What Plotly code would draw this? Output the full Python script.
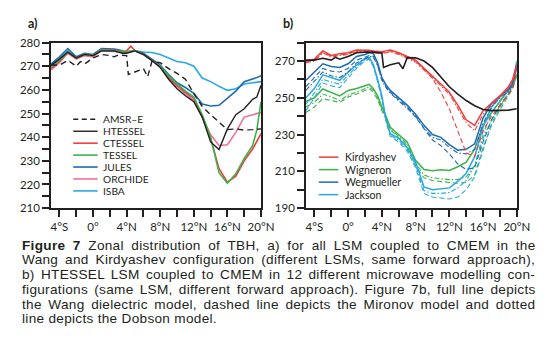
import re
import plotly.graph_objects as go

W, H = 552, 345

# ---------------- data ----------------
LAT = [-5, -4, -3, -2, -1, 0, 1, 2, 2.5, 3, 3.5, 4, 4.5, 5, 6, 7, 8, 9, 10, 11,
       12, 13, 14, 15, 16, 17, 18, 19, 19.5, 20]
OBS_LAT = [-5, -4, -3, -2, -1.5, -1, 0, 1, 2, 2.5, 3, 4, 4.2, 5, 6, 6.5, 7, 8, 9, 10,
           11, 12, 13, 14, 15, 16, 17, 18, 19, 20]

# panel a
AMSRE = [270.5, 270.5, 272.5, 270, 272, 271, 273.5, 275, 274.5, 274, 274.8, 274.5, 266.5, 267.5, 269,
         265.5, 272, 271.5, 269, 267, 264.5, 258.5, 253, 249.5, 246.5, 243.2, 243.5, 243, 243.2, 243.5]
HTESSEL = [270.5, 273, 276, 273.5, 275, 274.5, 276.5, 276.5, 276.5, 276, 275.5, 275.5, 276, 276.5, 275,
           272.5, 269.5, 264.5, 260.5, 257.5, 255, 248.5, 238, 234.8, 243.5, 249.5, 252, 256, 257, 262]
CTESSEL = [269, 272, 276, 273.5, 275, 274.5, 277, 277, 276.8, 276.5, 276, 276.5, 278.5, 276.5, 275,
           272.5, 270, 265.5, 262, 259, 256.5, 249, 239.5, 226.7, 221, 223.5, 230, 235, 238, 241.5]
TESSEL = [269.5, 272.5, 276, 273.5, 275, 274.5, 276.8, 276.8, 276.5, 276.3, 276, 276, 276.5, 276.5, 275,
          272.5, 270, 266, 262.5, 259.5, 257, 249.5, 240, 225, 220.5, 224.5, 231, 236.5, 243, 255]
JULES = [271, 274, 277.5, 274, 275.5, 275, 277.5, 277.5, 277.3, 277, 276.5, 276, 276.3, 276.5, 275.5,
         273, 270.5, 266.5, 263, 261, 258.5, 254, 253.2, 253.5, 256.5, 259.5, 263.5, 264.5, 265.2, 266]
ORCHIDE = [268.5, 271.5, 275.5, 273, 274.5, 274, 276.5, 276.5, 276.3, 276, 275.8, 276, 276.3, 276.5, 275,
           272.5, 269.5, 265, 261.5, 258.5, 255.5, 248.5, 241, 236.5, 236.8, 242, 248.5, 249.5, 250, 250.5]
ISBA = [270, 273, 276.5, 273.5, 275, 274.5, 277, 277, 276.8, 276.5, 276.3, 276, 276.3, 276.5, 276,
        275.8, 275, 273.5, 272, 271.5, 270, 265, 263.5, 261.5, 259.8, 260.5, 262.5, 263, 263.2, 263.5]

# panel b  (W = Wang full, M = Mironov dashed, D = Dobson dotted)
OBS_B = [270.5, 270.5, 271.5, 270.5, 272, 271, 272.5, 274.5, 274.8, 274.8, 274.8, 274.2, 266.5, 268, 269,
         265.8, 271.8, 271.7, 270, 266.5, 261.5, 256, 252, 248.5, 245.7, 243.6, 243, 243, 243.3, 244]
KIR_W = [270, 271, 275.5, 273, 274, 274.5, 276, 276, 275.8, 275.5, 275.2, 275, 275.5, 276, 274.5,
         272.5, 270.5, 266, 262, 257.5, 253, 246, 238, 235, 243, 247, 251, 256, 260, 268]
KIR_M = [269.5, 270.5, 275, 272.5, 273.5, 274, 275.5, 275.5, 275.3, 275, 274.7, 274.5, 275, 275.5, 274,
         272, 270, 265.5, 260.5, 253, 244, 232, 220, 218, 232, 240, 246, 252, 256, 264]
KIR_D = [269, 270, 274.5, 272, 273, 273.5, 275, 275, 274.8, 274.5, 274.2, 274, 274.5, 275, 273.5,
         271.5, 269.5, 265, 261, 256.5, 252, 244.5, 236.5, 232, 241, 246, 250.5, 255, 259, 266]
WIG_W = [248, 250, 254.8, 253, 251, 254, 255, 256.5, 257.3, 255, 251, 245, 240, 234, 230,
         226, 216, 211, 210.3, 210.8, 210.5, 212.5, 215, 222, 235, 242, 248, 254, 257, 263]
WIG_M = [242, 245, 249.5, 248.5, 247.5, 250.5, 252, 254, 255, 253, 249, 243, 238.5, 232.5, 228.5,
         224, 213, 206.5, 205, 204.5, 204, 203.5, 204, 208, 223, 235, 243.5, 251, 255, 262]
WIG_D = [245, 247.5, 252, 250.5, 248.5, 251.5, 253, 255, 256, 254, 250, 244, 239, 233, 229,
         225, 214.5, 208, 206.5, 206, 205.5, 205.5, 207, 213, 228, 238, 245.5, 252, 255.5, 262]
WEG_W = [259.5, 264, 268.5, 267, 266.5, 268.5, 272.5, 273.5, 274.5, 274, 269, 261, 257, 254, 250,
         246, 241, 235, 230, 228.5, 224.5, 221.5, 222, 225, 239, 247, 251, 254.5, 257.5, 268]
WEG_M = [256, 261, 266, 264.5, 264, 266, 270.5, 272, 273, 272.5, 268, 260, 256, 253, 249,
         245, 239.5, 233, 227, 224, 219.5, 214, 211, 212, 226, 238, 246, 252, 256, 266]
WEG_D = [254, 259, 264, 262, 261, 264, 269, 271, 272.5, 272, 267.5, 259.5, 255.5, 252.5, 248.5,
         244.5, 240, 233.5, 228.5, 227, 223, 220, 219.5, 222, 236, 245, 250, 253.5, 256.5, 267]
JAC_W = [250, 255, 262.5, 261, 259.5, 264, 268, 271.5, 272, 268, 260, 251, 238, 230.5, 228,
         223, 215, 201.5, 200, 200.5, 201, 204.5, 209, 218, 234, 245, 250.5, 255, 258, 270]
JAC_M = [243, 250, 258, 256.5, 255.5, 260.5, 266, 270, 271, 267, 259, 249.5, 237, 229, 226,
         221, 212, 198, 196, 195.5, 195, 196, 200, 207, 222, 236, 245, 252, 256, 268]
JAC_D = [246.5, 252.5, 260, 258.5, 257.5, 262, 267, 270.5, 271.5, 267.5, 259.5, 250, 237.5, 229.5, 227,
         222, 213.5, 199.5, 198, 198, 198.5, 201, 205, 213, 230, 242, 248.5, 254, 257, 269]

X_TICKS = [-4, -2, 0, 2, 4, 6, 8, 10, 12, 14, 16, 18, 20]
X_LABELS = ["4°S", "", "0°", "", "4°N", "", "8°N", "", "12°N", "", "16°N", "", "20°N"]
YA_TICKS = [210, 215, 220, 225, 230, 235, 240, 245, 250, 255, 260, 265, 270, 275, 280]
YA_LABELS = ["210", "", "220", "", "230", "", "240", "", "250", "", "260", "", "270", "", "280"]
YB_TICKS = [190, 200, 210, 220, 230, 240, 250, 260, 270, 280]
YB_LABELS = ["190", "", "210", "", "230", "", "250", "", "270", ""]

LEG_A = ["AMSR–E", "HTESSEL", "CTESSEL", "TESSEL", "JULES", "ORCHIDE", "ISBA"]
LEG_B = ["Kirdyashev", "Wigneron", "Wegmueller", "Jackson"]

CAPTION = [
    "<b>Figure 7</b>  Zonal distribution of TBH, a) for all LSM coupled to CMEM in the",
    "Wang and Kirdyashev configuration (different LSMs, same forward approach),",
    "b) HTESSEL LSM coupled to CMEM in 12 different microwave modelling con-",
    "figurations (same LSM, different forward approach). Figure 7b, full line depicts",
    "the Wang dielectric model, dashed line depicts the Mironov model and dotted",
    "line depicts the Dobson model.",
]

# ---------------- styles ----------------
BLACK = "#231f20"
RED = "#ee3e3c"
GREEN = "#3cb44b"
DBLUE = "#1d6bb3"
PINK = "#f06fa0"
LBLUE = "#29a9e0"
FONT = "Lato"
CAP_FONT = "Liberation Sans"
CAP_SIZE = 13.6
CAP_LS = 0.3

DASH_OBS = "6px,4px"
DASH_M = "5px,3px"
DASH_D = "5px,2px,1.5px,2px"

fig = go.Figure()

def add(x, y, color, width, dash, xa, ya):
    fig.add_trace(go.Scatter(x=x, y=y, mode="lines", xaxis=xa, yaxis=ya,
                             line=dict(color=color, width=width, dash=dash),
                             showlegend=False, hoverinfo="skip"))

# panel a
add(LAT, ISBA, LBLUE, 1.6, "solid", "x", "y")
add(LAT, JULES, DBLUE, 1.6, "solid", "x", "y")
add(LAT, ORCHIDE, PINK, 1.6, "solid", "x", "y")
add(LAT, CTESSEL, RED, 1.6, "solid", "x", "y")
add(LAT, TESSEL, GREEN, 1.6, "solid", "x", "y")
add(LAT, HTESSEL, BLACK, 1.4, "solid", "x", "y")
add(OBS_LAT, AMSRE, BLACK, 1.4, DASH_OBS, "x", "y")

# panel b
for series, color in [((WIG_W, WIG_M, WIG_D), GREEN), ((JAC_W, JAC_M, JAC_D), LBLUE),
                      ((WEG_W, WEG_M, WEG_D), DBLUE), ((KIR_W, KIR_M, KIR_D), RED)]:
    w, m, d = series
    add(LAT, m, color, 1.1, DASH_M, "x2", "y2")
    add(LAT, d, color, 1.1, DASH_D, "x2", "y2")
    add(LAT, w, color, 1.5, "solid", "x2", "y2")
add(OBS_LAT, OBS_B, BLACK, 1.6, "solid", "x2", "y2")

# ---------------- layout ----------------
def px_x(p):
    return p / W

def px_y(p):
    return 1 - p / H

ydom = [px_y(209), px_y(37)]
axis_common = dict(showline=True, linecolor=BLACK, linewidth=1.6, mirror=True,
                   ticks="outside", ticklen=7, tickwidth=1.6, tickcolor=BLACK,
                   showgrid=False, zeroline=False, tickmode="array",
                   tickfont=dict(family=FONT, size=11.5, color=BLACK))

fig.update_layout(
    width=W, height=H, margin=dict(l=0, r=0, t=0, b=0),
    paper_bgcolor="white", plot_bgcolor="white", showlegend=False,
    xaxis=dict(domain=[px_x(52.3), px_x(267.3)], range=[-5, 20], anchor="y",
               tickvals=X_TICKS, ticktext=X_LABELS, **axis_common),
    yaxis=dict(domain=ydom, range=[210, 280], anchor="x",
               tickvals=YA_TICKS, ticktext=YA_LABELS, **axis_common),
    xaxis2=dict(domain=[px_x(313.3), px_x(529.3)], range=[-5, 20], anchor="y2",
                tickvals=X_TICKS, ticktext=X_LABELS, **axis_common),
    yaxis2=dict(domain=ydom, range=[190, 280], anchor="x2",
                tickvals=YB_TICKS, ticktext=YB_LABELS, **axis_common),
)

shapes = []
annotations = []

# legend a
leg_a_y = [116.7, 129.1, 141.5, 153.9, 166.3, 178.7, 191.1]
leg_a_style = [(BLACK, "5px,3.5px", 1.4), (BLACK, "solid", 1.4), (RED, "solid", 1.6),
               (GREEN, "solid", 1.6), (DBLUE, "solid", 1.6), (PINK, "solid", 1.6),
               (LBLUE, "solid", 1.6)]
for name, yy, (c, dsh, lw) in zip(LEG_A, leg_a_y, leg_a_style):
    shapes.append(dict(type="line", xref="paper", yref="paper",
                       x0=px_x(75), x1=px_x(100), y0=px_y(yy), y1=px_y(yy),
                       line=dict(color=c, width=lw, dash=dsh)))
    annotations.append(dict(text=name, xref="paper", yref="paper", x=px_x(104.5), y=px_y(yy),
                            xanchor="left", yanchor="middle", showarrow=False, borderpad=0,
                            font=dict(family=FONT, size=10.2, color=BLACK)))

# legend b
leg_b_y = [156.0, 169.0, 182.0, 195.0]
for name, yy, c in zip(LEG_B, leg_b_y, [RED, GREEN, DBLUE, LBLUE]):
    shapes.append(dict(type="line", xref="paper", yref="paper",
                       x0=px_x(326.5), x1=px_x(346.5), y0=px_y(yy), y1=px_y(yy),
                       line=dict(color=c, width=1.5)))
    annotations.append(dict(text=name, xref="paper", yref="paper", x=px_x(352), y=px_y(yy),
                            xanchor="left", yanchor="middle", showarrow=False, borderpad=0,
                            font=dict(family=FONT, size=10.6, color=BLACK)))

# panel letters
for lab, xx in [("a)", 27), ("b)", 288)]:
    annotations.append(dict(text="<b>" + lab + "</b>", xref="paper", yref="paper",
                            x=px_x(xx), y=px_y(17), xanchor="left", yanchor="middle",
                            showarrow=False, font=dict(family=FONT, size=12.5, color=BLACK)))

# caption: justified lines (approximate Arial metrics used to compute word spacing)
ARIAL = {' ': 278, '(': 333, ')': 333, ',': 278, '-': 333, '.': 278, '–': 556}
ARIAL.update({d: 556 for d in "0123456789"})
ARIAL.update(dict(zip("ABCDEFGHIJKLMNOPQRSTUVWXYZ",
                      [667, 667, 722, 722, 667, 611, 778, 722, 278, 500, 667, 556, 833,
                       722, 778, 667, 778, 722, 667, 611, 722, 667, 944, 667, 667, 611])))
ARIAL.update(dict(zip("abcdefghijklmnopqrstuvwxyz",
                      [556, 556, 500, 556, 556, 278, 556, 556, 222, 222, 500, 222, 833,
                       556, 556, 556, 556, 333, 500, 278, 556, 500, 722, 500, 500, 500])))
ARIAL_B = {'F': 611, 'i': 278, 'g': 611, 'u': 611, 'r': 389, 'e': 556, '7': 556, ' ': 278}

def text_width(s, size, ls):
    total = 0.0
    nch = 0
    for m in re.finditer(r"<b>(.*?)</b>|([^<]+)", s):
        bold = m.group(1) is not None
        part = m.group(1) if bold else m.group(2)
        table = ARIAL_B if bold else ARIAL
        total += sum(table.get(ch, 556) for ch in part)
        nch += len(part)
    return total * size / 1000.0 + nch * ls

CAP_LEFT, CAP_RIGHT = 22.0, 536.0
cap_y = [247.5, 262.8, 278.1, 293.4, 308.7, 324.0]
for i, (line, yy) in enumerate(zip(CAPTION, cap_y)):
    line = re.sub(r"  +", " ", line)
    nsp = re.sub(r"<[^>]+>", "", line).count(" ")
    wnat = text_width(line, CAP_SIZE, CAP_LS)
    ws = 0.0
    if i < len(CAPTION) - 1 and nsp > 0:
        ws = max(0.0, (CAP_RIGHT - CAP_LEFT - wnat) / nsp)
    txt = '<span style="word-spacing:%.2fpx;letter-spacing:%.2fpx">%s</span>' % (ws, CAP_LS, line)
    annotations.append(dict(text=txt, xref="paper", yref="paper", x=px_x(CAP_LEFT), y=px_y(yy),
                            xanchor="left", yanchor="middle", showarrow=False, borderpad=0,
                            font=dict(family=CAP_FONT, size=CAP_SIZE, color=BLACK)))

fig.update_layout(shapes=shapes, annotations=annotations)
fig.write_html("out.html")
